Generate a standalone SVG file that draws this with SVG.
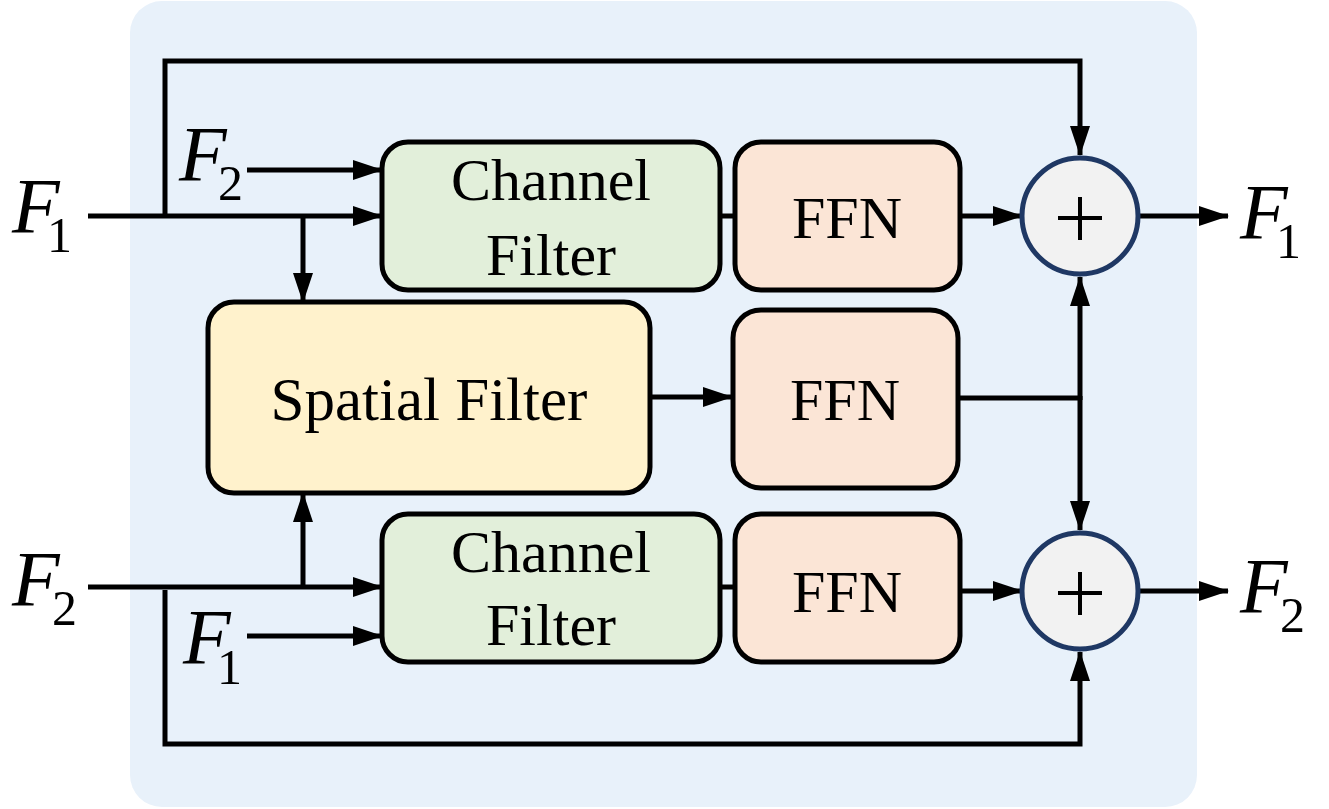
<svg xmlns="http://www.w3.org/2000/svg" width="1329" height="809" viewBox="0 0 1329 809">
<style>
.box{stroke:#000;stroke-width:5}
.ch{fill:#E2EFDA}.ffn{fill:#FBE5D6}.sp{fill:#FFF2CC}
.sum{fill:#F2F2F2;stroke:#1F3864;stroke-width:5}
.lbl{font-family:'Liberation Serif','Times New Roman',serif;font-size:60px;fill:#000;text-anchor:middle}
.F{font-family:'Liberation Serif','Times New Roman',serif;font-style:italic;font-size:78px;fill:#000}
.sub{font-family:'Liberation Serif','Times New Roman',serif;font-style:normal;font-size:50px;fill:#000}
.w{fill:none;stroke:#000;stroke-width:5}
.a{marker-end:url(#ah)}
</style>
<defs>
<marker id="ah" markerUnits="userSpaceOnUse" markerWidth="30" markerHeight="20" refX="29" refY="10" orient="auto" viewBox="0 0 30 20">
<path d="M0,0 L30,10 L0,20 z" fill="#000"/>
</marker>
</defs>
<rect x="130" y="1" width="1067" height="806" rx="32" fill="#E8F1FA"/>
<g id="connectors">
<path class="w" d="M88,216 L165,216"/>
<path class="w a" d="M165,216 L382,216"/>
<path class="w a" d="M165,216 L165,61 L1080,61 L1080,155"/>
<path class="w a" d="M247,170 L382,170"/>
<path class="w a" d="M303,216 L303,302"/>
<path class="w" d="M720,216 L735,216"/>
<path class="w a" d="M960,216 L1022,216"/>
<path class="w a" d="M1138,216 L1228,216"/>
<path class="w a" d="M650,397 L732,397"/>
<path class="w" d="M958,398 L1080,398"/>
<path class="w a" d="M1080,400 L1080,277"/>
<path class="w a" d="M1080,396 L1080,530"/>
<path class="w a" d="M88,587 L382,587"/>
<path class="w a" d="M303,587 L303,493"/>
<path class="w a" d="M165,590 L165,744 L1080,744 L1080,652"/>
<path class="w a" d="M247,636 L382,636"/>
<path class="w" d="M720,587 L735,587"/>
<path class="w a" d="M960,591 L1022,591"/>
<path class="w a" d="M1138,591 L1228,591"/>
</g>
<g id="channel1">
<rect class="box ch" x="382" y="142" width="338" height="148" rx="26"/>
<text class="lbl" x="551" y="200">Channel</text>
<text class="lbl" x="551" y="275">Filter</text>
</g>
<g id="ffn1">
<rect class="box ffn" x="735" y="142" width="225" height="148" rx="26"/>
<text class="lbl" x="847" y="238">FFN</text>
</g>
<g id="spatial">
<rect class="box sp" x="208" y="302" width="442" height="191" rx="26"/>
<text class="lbl" x="429" y="420" style="font-size:61px">Spatial Filter</text>
</g>
<g id="ffn2">
<rect class="box ffn" x="733" y="310" width="225" height="178" rx="28"/>
<text class="lbl" x="845" y="420">FFN</text>
</g>
<g id="channel2">
<rect class="box ch" x="382" y="514" width="338" height="148" rx="26"/>
<text class="lbl" x="551" y="572">Channel</text>
<text class="lbl" x="551" y="645">Filter</text>
</g>
<g id="ffn3">
<rect class="box ffn" x="735" y="514" width="225" height="148" rx="26"/>
<text class="lbl" x="847" y="612">FFN</text>
</g>
<g id="sum1">
<circle class="sum" cx="1080" cy="216" r="58"/>
<path d="M1058,218 L1102,218 M1080,197 L1080,240" stroke="#000" stroke-width="4"/>
</g>
<g id="sum2">
<circle class="sum" cx="1080" cy="591" r="58"/>
<path d="M1058,593 L1102,593 M1080,572 L1080,615" stroke="#000" stroke-width="4"/>
</g>
<g id="labels">
<text class="F" x="12" y="232">F</text><text class="sub" x="47" y="252">1</text>
<text class="F" x="12" y="605">F</text><text class="sub" x="52" y="625">2</text>
<text class="F" x="179" y="180">F</text><text class="sub" x="218" y="200">2</text>
<text class="F" x="183" y="663">F</text><text class="sub" x="217" y="684">1</text>
<text class="F" x="1240" y="238">F</text><text class="sub" x="1276" y="258">1</text>
<text class="F" x="1240" y="612">F</text><text class="sub" x="1280" y="632">2</text>
</g>
</svg>
